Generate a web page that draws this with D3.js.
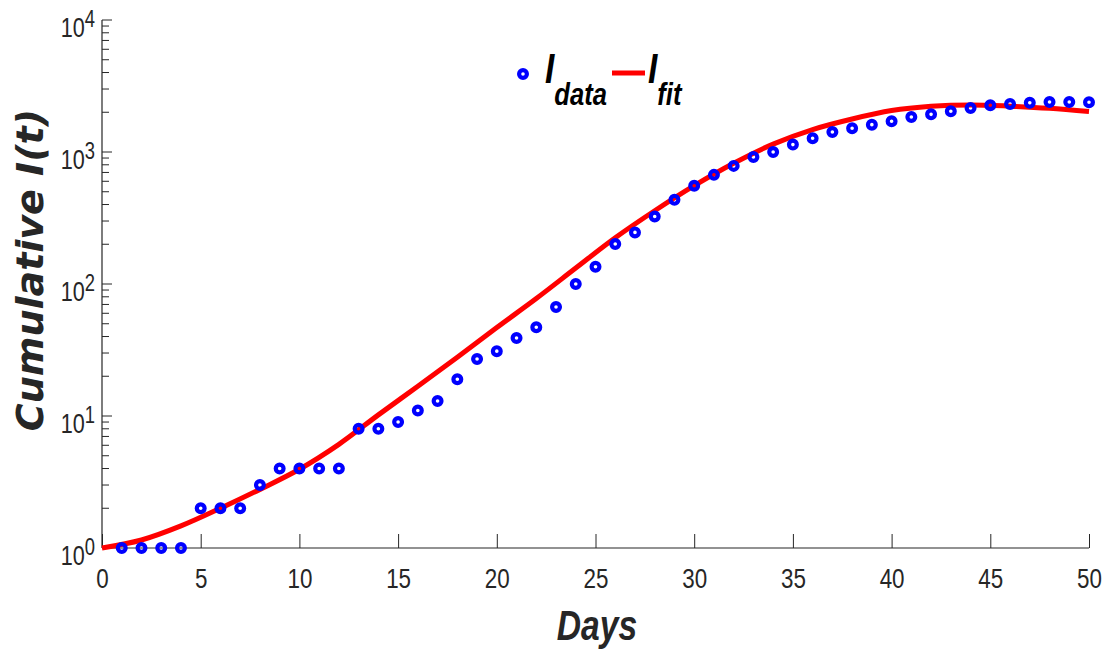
<!DOCTYPE html>
<html>
<head>
<meta charset="utf-8">
<script src="https://cdn.jsdelivr.net/npm/d3@7"></script>
<style>
  html, body { margin: 0; padding: 0; background: #ffffff; }
  svg { display: block; }
</style>
</head>
<body>
<div id="chart"></div>
<script>
"use strict";

// observed cumulative cases per day
const dataDays = d3.range(1, 51);
const dataValues = [
  1, 1, 1, 1, 2, 2, 2, 3, 4, 4,
  4, 4, 8, 8, 9, 11, 13, 19, 27, 31,
  39, 47, 67, 100, 135, 201, 246, 325, 434, 555,
  671, 785, 918, 1000, 1138, 1271, 1419, 1513, 1611, 1709,
  1842, 1929, 2034, 2155, 2258, 2311, 2357, 2394, 2394, 2380,
];

// fitted curve, read every two days
const fitDays = d3.range(0, 51, 2);
const fitValues = [
  1, 1.15, 1.47, 2.0, 2.78, 3.95, 6.1, 10.2, 16.8, 27.9,
  46.8, 77.6, 132, 224, 359, 556, 822, 1148, 1479, 1778,
  2060, 2220, 2275, 2225, 2143, 2023,
];

const xTicks = [0, 5, 10, 15, 20, 25, 30, 35, 40, 45, 50];
const yExponents = [0, 1, 2, 3, 4];

const width = 1111;
const height = 655;
const margin = { top: 20, right: 22, bottom: 107, left: 102 };
const innerWidth = width - margin.left - margin.right;
const innerHeight = height - margin.top - margin.bottom;
const sans = "'Liberation Sans', Arial, sans-serif";
const squeeze = 0.8; // narrow look of the original font
const axisColor = "#262626";

// squeeze a text horizontally around its anchor x
function narrowAt(ax) {
  return `translate(${ax},0) scale(${squeeze},1) translate(${-ax},0)`;
}

const svg = d3.select("#chart")
  .append("svg")
  .attr("width", width)
  .attr("height", height)
  .attr("viewBox", `0 0 ${width} ${height}`);

const g = svg.append("g").attr("transform", `translate(${margin.left},${margin.top})`);

const x = d3.scaleLinear().domain([0, 50]).range([0, innerWidth]);
const y = d3.scaleLog().domain([1, 10000]).range([innerHeight, 0]);

// minor log ticks
const minorTicks = [];
yExponents.slice(0, -1).forEach((e) => {
  for (let m = 2; m <= 9; m++) minorTicks.push(m * Math.pow(10, e));
});

g.selectAll("line.minor")
  .data(minorTicks)
  .join("line")
  .attr("class", "minor")
  .attr("x1", 0)
  .attr("x2", 7)
  .attr("y1", (d) => y(d))
  .attr("y2", (d) => y(d))
  .attr("stroke", axisColor)
  .attr("stroke-width", 1);

g.selectAll("line.major")
  .data(yExponents)
  .join("line")
  .attr("class", "major")
  .attr("x1", 0)
  .attr("x2", 10)
  .attr("y1", (e) => y(Math.pow(10, e)))
  .attr("y2", (e) => y(Math.pow(10, e)))
  .attr("stroke", axisColor)
  .attr("stroke-width", 1);

// y labels 10^e
const yLabels = g.selectAll("text.ylab")
  .data(yExponents)
  .join("text")
  .attr("class", "ylab")
  .attr("x", -7)
  .attr("y", (e) => y(Math.pow(10, e)) + 17)
  .attr("transform", narrowAt(-7))
  .attr("text-anchor", "end")
  .attr("font-family", sans)
  .attr("font-size", 27)
  .attr("fill", axisColor);

yLabels.append("tspan").text("10");
yLabels.append("tspan")
  .attr("dy", -10)
  .attr("font-size", 23)
  .text((e) => e);

// x axis
g.append("g")
  .attr("transform", `translate(0,${innerHeight})`)
  .call(d3.axisBottom(x).tickValues(xTicks).tickSize(-14).tickPadding(20).tickFormat(d3.format("d")))
  .call((axis) => axis.select(".domain").attr("stroke", axisColor).attr("stroke-width", 1.2).attr("d", `M0,0H${innerWidth}`))
  .call((axis) => axis.selectAll("line").attr("stroke", axisColor))
  .call((axis) => axis.selectAll("text")
    .attr("fill", axisColor)
    .attr("font-family", sans)
    .attr("font-size", 28)
    .attr("dy", "0.71em")
    .attr("transform", `scale(${squeeze},1)`));

// y axis line
g.append("line")
  .attr("x1", 0).attr("x2", 0)
  .attr("y1", 0).attr("y2", innerHeight)
  .attr("stroke", axisColor)
  .attr("stroke-width", 1.2);

// fit curve
const line = d3.line()
  .x((d, i) => x(fitDays[i]))
  .y((d) => y(d))
  .curve(d3.curveCatmullRom.alpha(0.5));

g.append("path")
  .datum(fitValues)
  .attr("fill", "none")
  .attr("stroke", "#ff0000")
  .attr("stroke-width", 5)
  .attr("d", line);

// data markers
g.selectAll("circle.pt")
  .data(dataValues)
  .join("circle")
  .attr("class", "pt")
  .attr("cx", (d, i) => x(dataDays[i]))
  .attr("cy", (d) => y(d))
  .attr("r", 3.9)
  .attr("fill", "none")
  .attr("stroke", "#0000ff")
  .attr("stroke-width", 4.2);

// axis titles
svg.append("text")
  .attr("x", 597)
  .attr("y", 640)
  .attr("transform", narrowAt(597))
  .attr("text-anchor", "middle")
  .attr("font-family", sans)
  .attr("font-size", 42)
  .attr("font-weight", 700)
  .attr("font-style", "italic")
  .attr("fill", axisColor)
  .text("Days");

svg.append("text")
  .attr("transform", "translate(43,270) rotate(-90)")
  .attr("text-anchor", "middle")
  .attr("font-family", "'DejaVu Sans', Verdana, sans-serif")
  .attr("font-size", 38)
  .attr("font-weight", 700)
  .attr("font-style", "italic")
  .attr("fill", axisColor)
  .text("Cumulative I(t)");

// legend
const legend = svg.append("g");
legend.append("circle")
  .attr("cx", 523).attr("cy", 74)
  .attr("r", 3.9)
  .attr("fill", "none")
  .attr("stroke", "#0000ff")
  .attr("stroke-width", 4.2);

function legendLabel(xPos, sub) {
  const t = legend.append("text")
    .attr("x", xPos)
    .attr("y", 83)
    .attr("transform", narrowAt(xPos))
    .attr("font-family", sans)
    .attr("font-weight", 700)
    .attr("font-style", "italic")
    .attr("font-size", 42)
    .attr("fill", "#000000");
  t.append("tspan").text("I");
  t.append("tspan").attr("dy", 22).attr("font-size", 32).text(sub);
}

legendLabel(545, "data");
legend.append("line")
  .attr("x1", 612).attr("x2", 645)
  .attr("y1", 73).attr("y2", 73)
  .attr("stroke", "#ff0000")
  .attr("stroke-width", 5);
legendLabel(648, "fit");
</script>
</body>
</html>
